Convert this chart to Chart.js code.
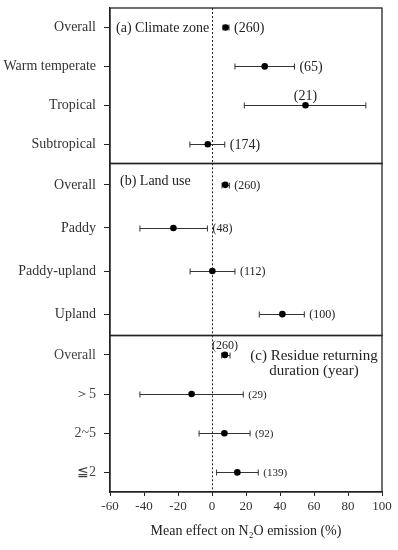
<!DOCTYPE html>
<html>
<head>
<meta charset="utf-8">
<script src="https://cdn.jsdelivr.net/npm/chart.js@4.4.1/dist/chart.umd.min.js"></script>
<style>
  body { margin: 0; background: #fff; }
  #wrap { position: relative; width: 398px; height: 550px; }
  #wrap canvas { position: absolute; left: 0; }
</style>
</head>
<body>
<div id="wrap">
  <canvas id="chart-a" width="398" height="167" style="top:0"></canvas>
  <canvas id="chart-b" width="398" height="179" style="top:160px"></canvas>
  <canvas id="chart-c" width="398" height="218" style="top:332px"></canvas>
</div>
<script>
// === DATA ===
const xTicks = [-60, -40, -20, 0, 20, 40, 60, 80, 100];

// (a) Climate zone
const climateCats = ['Overall', 'Warm temperate', 'Tropical', 'Subtropical'];
const climateMean = [8, 31, 55, -2.5];
const climateLow = [6.5, 13.5, 19, -13];
const climateHigh = [10, 48.5, 90.5, 7.5];
const climateN = [260, 65, 21, 174];

// (b) Land use
const landCats = ['Overall', 'Paddy', 'Paddy-upland', 'Upland'];
const landMean = [7.8, -22.7, 0.2, 41.4];
const landLow = [5.9, -42.4, -12.9, 27.8];
const landHigh = [10.2, -2.7, 13.5, 54.3];
const landN = [260, 48, 112, 100];

// (c) Residue returning duration
const durationCats = ['Overall', '＞5', '2~5', '≦2'];
const durationMean = [7.6, -12, 7.3, 14.9];
const durationLow = [5.7, -42.4, -7.6, 2.7];
const durationHigh = [10.6, 18.4, 22.4, 27.2];
const durationN = [260, 29, 92, 139];

const SERIF = '"Liberation Serif", "DejaVu Serif", serif';

// draws box, zero line, whiskers and the (n) labels
const forestPlugin = {
  id: 'forest',
  beforeDatasetsDraw(chart) {
    const o = chart.options.plugins.forest;
    const { ctx, chartArea: a } = chart;
    const xs = chart.scales.x, ys = chart.scales.y;
    ctx.save();
    // zero line
    ctx.strokeStyle = '#222';
    ctx.lineWidth = 1;
    ctx.setLineDash([2, 2]);
    const x0 = Math.round(xs.getPixelForValue(0)) + 0.5;
    ctx.beginPath(); ctx.moveTo(x0, a.top); ctx.lineTo(x0, a.bottom); ctx.stroke();
    ctx.setLineDash([]);
    // whiskers
    ctx.strokeStyle = '#333';
    o.low.forEach((lo, i) => {
      const y = Math.round(ys.getPixelForValue(i)) + 0.5;
      const x1 = xs.getPixelForValue(lo), x2 = xs.getPixelForValue(o.high[i]);
      ctx.beginPath();
      ctx.moveTo(x1, y); ctx.lineTo(x2, y);
      ctx.moveTo(x1, y - 3); ctx.lineTo(x1, y + 3);
      ctx.moveTo(x2, y - 3); ctx.lineTo(x2, y + 3);
      ctx.stroke();
    });
    // box
    ctx.strokeStyle = '#222';
    ctx.lineWidth = 1.3;
    ctx.strokeRect(a.left, a.top, a.right - a.left, a.bottom - a.top);
    ctx.restore();
  },
  afterDatasetsDraw(chart) {
    const o = chart.options.plugins.forest;
    const { ctx, chartArea: a } = chart;
    const xs = chart.scales.x, ys = chart.scales.y;
    ctx.save();
    ctx.fillStyle = '#222';
    o.n.forEach((n, i) => {
      const y = ys.getPixelForValue(i);
      if (o.above.includes(i)) {
        ctx.font = o.aboveFont + 'px ' + SERIF;
        ctx.textAlign = 'center'; ctx.textBaseline = 'middle';
        ctx.fillText('(' + n + ')', xs.getPixelForValue(o.mean[i]), y - 9);
      } else {
        ctx.font = o.nFont + 'px ' + SERIF;
        ctx.textAlign = 'left'; ctx.textBaseline = 'middle';
        ctx.fillText('(' + n + ')', xs.getPixelForValue(o.high[i]) + 5, y + 1);
      }
    });
    // panel title
    ctx.font = o.titleFont + 'px ' + SERIF;
    ctx.textBaseline = 'middle';
    ctx.textAlign = o.titleAlign;
    o.title.forEach((t, k) => ctx.fillText(t, o.titleX, a.top + o.titleY + k * 15));
    ctx.restore();
  }
};

function makeChart(id, cats, mean, low, high, n, extra) {
  const bottom = extra.bottom;
  return new Chart(document.getElementById(id), {
    type: 'line',
    data: {
      labels: cats,
      datasets: [{ data: mean, showLine: false, pointRadius: 3.3, pointHoverRadius: 3.3,
        pointBackgroundColor: '#000', pointBorderColor: '#000', borderWidth: 0 }]
    },
    plugins: [forestPlugin],
    options: {
      responsive: false,
      devicePixelRatio: 1,
      animation: false,
      indexAxis: 'y',
      layout: { padding: extra.padding },
      scales: {
        x: {
          type: 'linear', min: -60, max: 100, display: bottom,
          afterBuildTicks: s => { s.ticks = xTicks.map(v => ({ value: v })); },
          afterFit: s => { if (bottom) s.height = 48; s.paddingLeft = 0; s.paddingRight = 0; },
          grid: { drawOnChartArea: false, drawTicks: true, tickLength: 4, color: '#222', lineWidth: 1 },
          border: { display: true, color: '#222', width: 1.3 },
          ticks: { color: '#333', padding: 3, font: { family: SERIF, size: 13 } },
          title: { display: bottom, text: 'Mean effect on N₂O emission (%)', color: '#222',
            padding: { top: 0, bottom: 0 }, font: { family: SERIF, size: 14 } }
        },
        y: {
          type: 'category', offset: true,
          afterFit: s => { s.width = 110; s.paddingTop = 0; s.paddingBottom = 0; },
          grid: { offset: false, drawOnChartArea: false, drawTicks: true, tickLength: 6, color: '#222' },
          border: { display: true, color: '#222', width: 1.3 },
          ticks: { color: extra.tickColor, padding: 8, font: { family: SERIF, size: extra.tickSize } }
        }
      },
      plugins: {
        legend: { display: false },
        tooltip: { enabled: false },
        forest: Object.assign({ mean, low, high, n }, extra.forest)
      }
    }
  });
}

makeChart('chart-a', climateCats, climateMean, climateLow, climateHigh, climateN, {
  bottom: false, padding: { top: 8, bottom: 0, left: 0, right: 16 }, tickColor: '#333', tickSize: 14,
  forest: { above: [2], nFont: 14, aboveFont: 14, title: ['(a) Climate zone'], titleFont: 14,
    titleAlign: 'left', titleX: 116, titleY: 20 }
});

makeChart('chart-b', landCats, landMean, landLow, landHigh, landN, {
  bottom: false, padding: { top: 0, bottom: 0, left: 0, right: 16 }, tickColor: '#333', tickSize: 14,
  forest: { above: [], nFont: 12, aboveFont: 12, title: ['(b) Land use'], titleFont: 14,
    titleAlign: 'left', titleX: 120, titleY: 18 }
});

makeChart('chart-c', durationCats, durationMean, durationLow, durationHigh, durationN, {
  bottom: true, padding: { top: 0, bottom: 10, left: 0, right: 16 }, tickColor: '#444', tickSize: 14,
  forest: { above: [0], nFont: 11, aboveFont: 12, title: ['(c) Residue returning', 'duration (year)'],
    titleFont: 15, titleAlign: 'center', titleX: 314, titleY: 21 }
});
</script>
</body>
</html>
